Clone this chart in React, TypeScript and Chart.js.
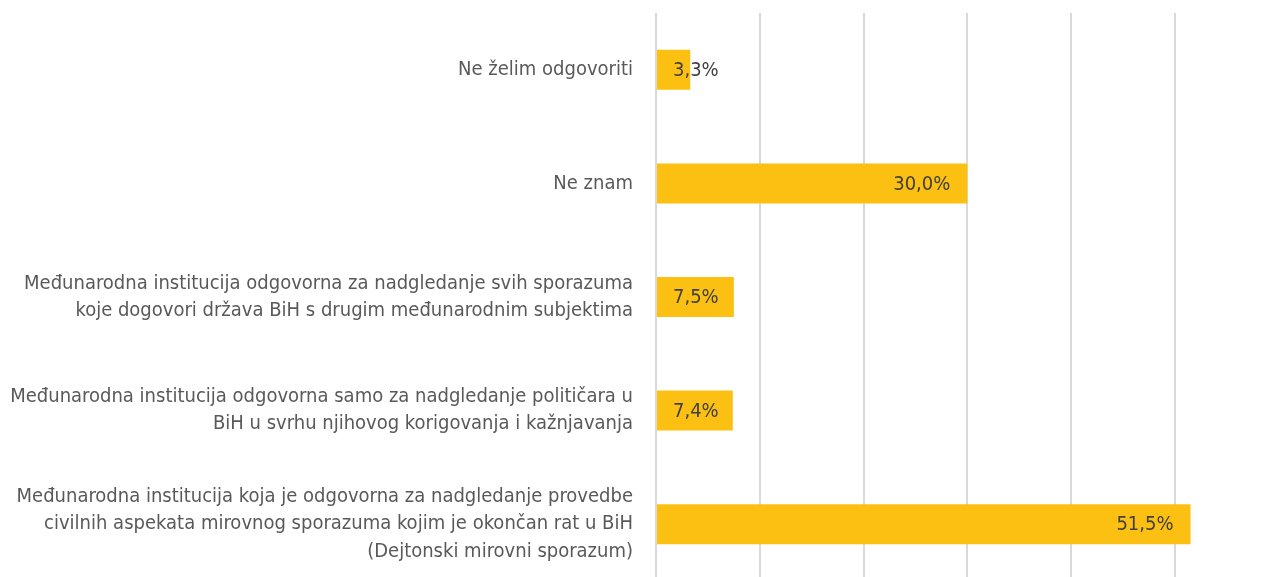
import React, { useEffect, useRef } from "react";
import { Chart, registerables } from "chart.js";

Chart.register(...registerables);

const categories: string[][] = [
  ["Ne želim odgovoriti"],
  ["Ne znam"],
  ["Međunarodna institucija odgovorna za nadgledanje svih sporazuma", "koje dogovori država BiH s drugim međunarodnim subjektima"],
  ["Međunarodna institucija odgovorna samo za nadgledanje političara u", "BiH u svrhu njihovog korigovanja i kažnjavanja"],
  ["Međunarodna institucija koja je odgovorna za nadgledanje provedbe", "civilnih aspekata mirovnog sporazuma kojim je okončan rat u BiH", "(Dejtonski mirovni sporazum)"],
];
const values: number[] = [3.3, 30.0, 7.5, 7.4, 51.5];
const gridTicks: number[] = [0, 10, 20, 30, 40, 50];

const FONT = "'DejaVu Sans Condensed', 'DejaVu Sans', sans-serif";
const FSIZE = 20;

const valueLabels = {
  id: "valueLabels",
  afterDatasetsDraw(chart: any) {
    const ctx = chart.ctx;
    const meta = chart.getDatasetMeta(0);
    ctx.save();
    ctx.font = `normal ${FSIZE}px ${FONT}`;
    ctx.fillStyle = "#404040";
    ctx.textBaseline = "middle";
    ctx.textAlign = "left";
    meta.data.forEach((bar: any, i: number) => {
      const txt = values[i].toFixed(1).replace(".", ",") + "%";
      const w = ctx.measureText(txt).width;
      const x = Math.max(bar.x - 17 - w, bar.base + 16);
      ctx.fillText(txt, x, bar.y + 1);
    });
    ctx.restore();
  },
};

export default function App() {
  const ref = useRef<HTMLCanvasElement>(null);
  useEffect(() => {
    if (!ref.current) return;
    const chart = new Chart(ref.current, {
      type: "bar",
      data: {
        labels: categories,
        datasets: [
          {
            data: values,
            backgroundColor: "#FCC012",
            borderWidth: 0,
            barPercentage: 0.352,
            categoryPercentage: 1,
          },
        ],
      },
      options: {
        indexAxis: "y",
        animation: false,
        responsive: true,
        maintainAspectRatio: false,
        layout: { padding: { top: 13, right: 12, bottom: 0, left: 0 } },
        plugins: { legend: { display: false }, tooltip: { enabled: false } },
        scales: {
          x: {
            min: 0,
            max: 58,
            afterBuildTicks: (scale: any) => {
              scale.ticks = gridTicks.map((v) => ({ value: v }));
            },
            afterFit: (scale: any) => {
              scale.height = 0;
              scale.paddingLeft = 0;
              scale.paddingRight = 0;
            },
            ticks: { display: false },
            grid: { color: "#d9d9d9", lineWidth: 2, drawTicks: false },
            border: { display: false },
          },
          y: {
            afterFit: (scale: any) => {
              scale.width = 656;
              scale.paddingTop = 0;
              scale.paddingBottom = 0;
            },
            ticks: {
              padding: 23,
              color: "#595959",
              font: { family: FONT, size: FSIZE, weight: "normal", lineHeight: 1.36 },
            },
            grid: { display: false, drawTicks: false },
            border: { display: false },
          },
        },
      },
      plugins: [valueLabels],
    });
    return () => chart.destroy();
  }, []);
  return (
    <div style={{ position: "fixed", left: 0, top: 0, width: 1270, height: 581, background: "#fff" }}>
      <canvas ref={ref} />
    </div>
  );
}
